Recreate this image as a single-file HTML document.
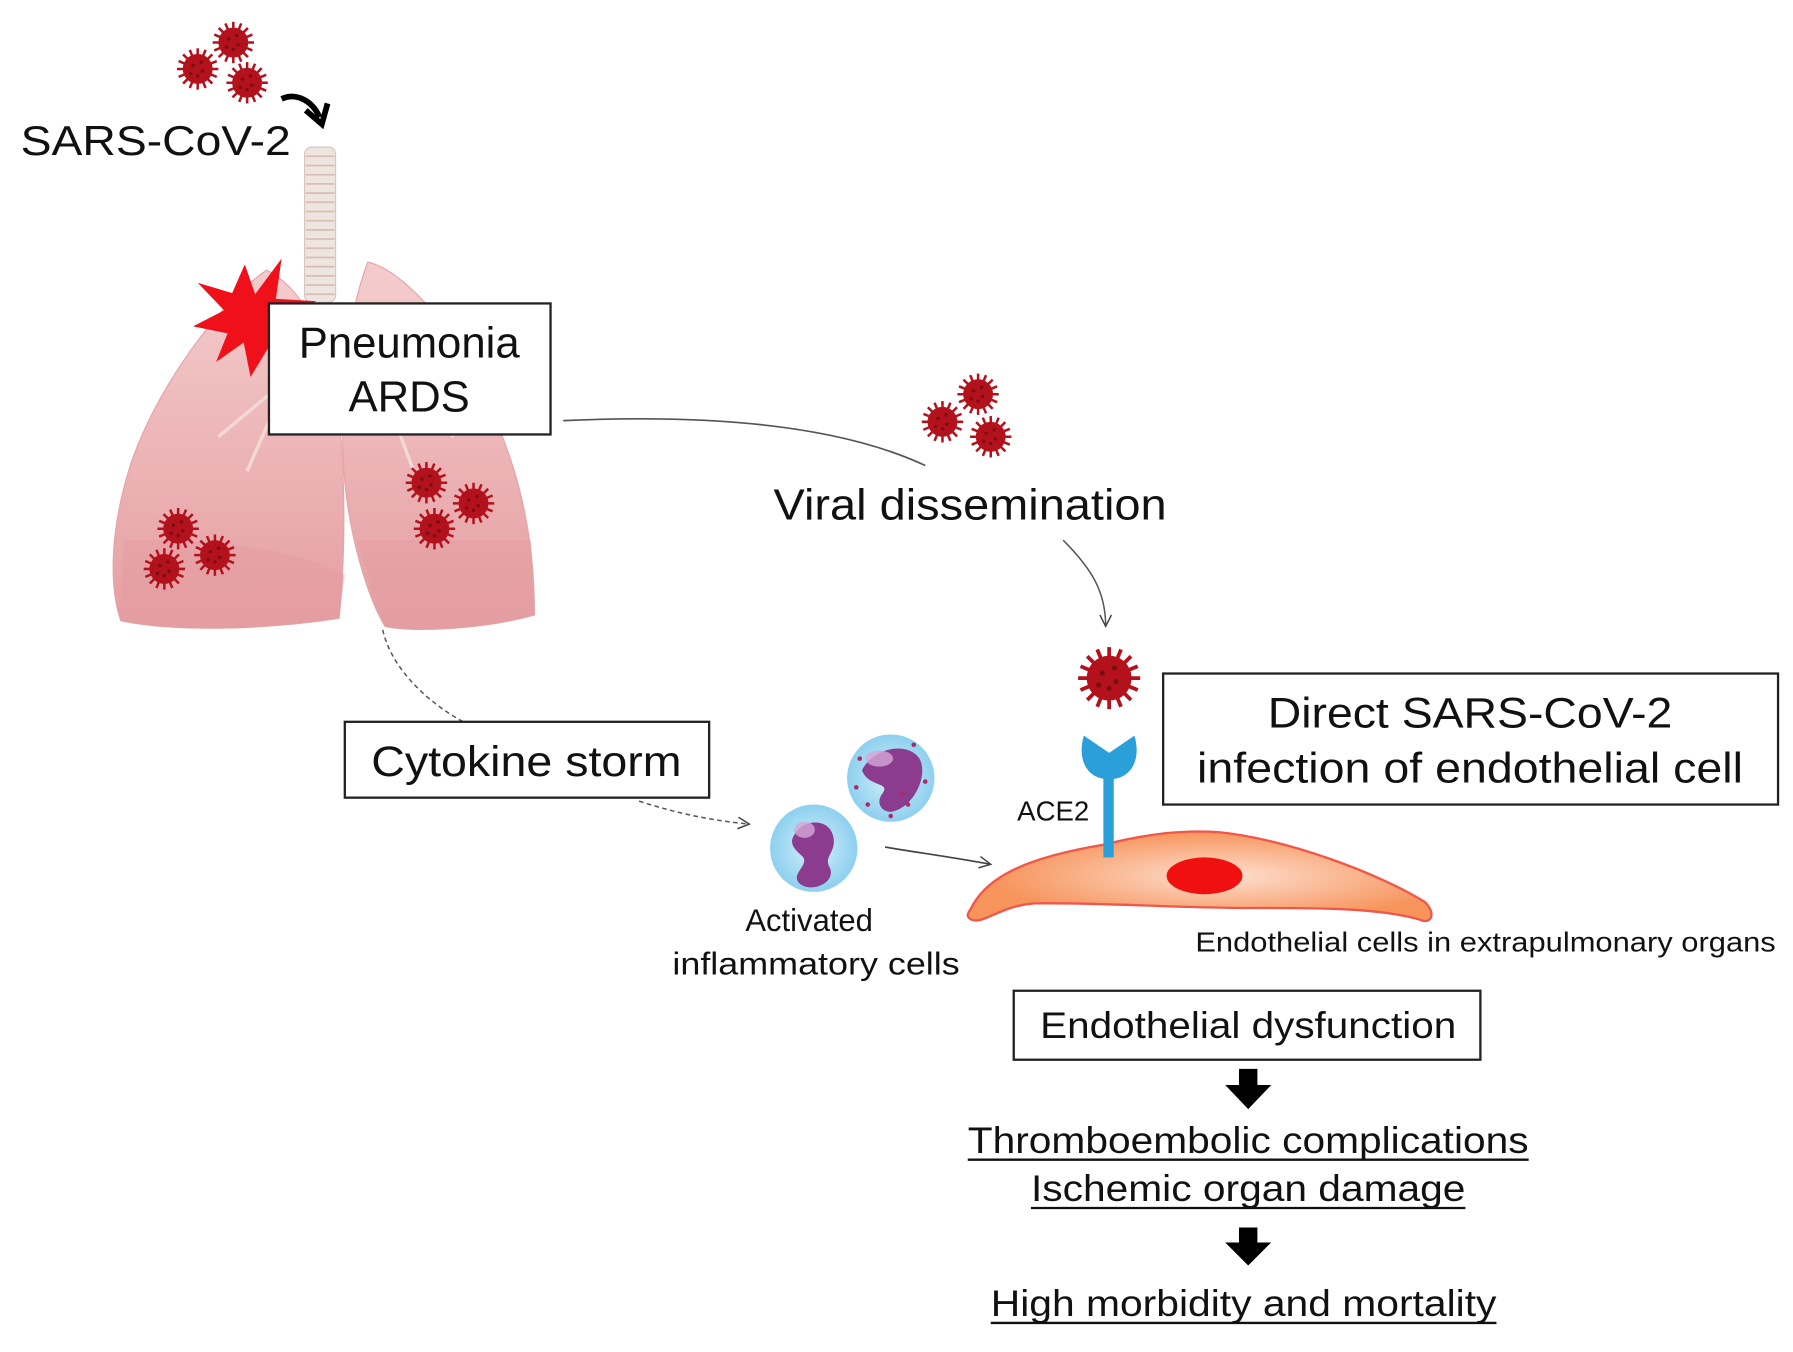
<!DOCTYPE html>
<html><head><meta charset="utf-8"><style>
html,body{margin:0;padding:0;background:#fff;}
svg{display:block;}
text{font-family:"Liberation Sans",Arial,sans-serif;fill:#111;}
</style></head><body>
<svg width="1793" height="1352" viewBox="0 0 1560 1176.3" preserveAspectRatio="none" xmlns="http://www.w3.org/2000/svg">
<defs>
<g id="v">
<circle r="13" fill="#b3121c"/>
<g stroke="#b3121c" stroke-width="2.2">
<line x1="0" y1="-18" x2="0" y2="18"/><line x1="-18" y1="0" x2="18" y2="0"/>
<line x1="-12.7" y1="-12.7" x2="12.7" y2="12.7"/><line x1="-12.7" y1="12.7" x2="12.7" y2="-12.7"/>
<line x1="-6.9" y1="-16.6" x2="6.9" y2="16.6"/><line x1="6.9" y1="-16.6" x2="-6.9" y2="16.6"/>
<line x1="-16.6" y1="-6.9" x2="16.6" y2="6.9"/><line x1="-16.6" y1="6.9" x2="16.6" y2="-6.9"/>
</g>
<g fill="#7d0c12"><circle cx="-4" cy="-3" r="1.5"/><circle cx="4" cy="2" r="1.5"/><circle cx="0" cy="6" r="1.5"/><circle cx="3" cy="-6" r="1.5"/><circle cx="-6" cy="4" r="1.5"/></g>
</g>
<linearGradient id="lg" x1="0" y1="0" x2="0" y2="1"><stop offset="0" stop-color="#f4cccc"/><stop offset="1" stop-color="#e59ea2"/></linearGradient>
<radialGradient id="eg" cx="0.55" cy="0.5" r="0.5"><stop offset="0" stop-color="#fde0d0"/><stop offset="1" stop-color="#f7945c"/></radialGradient>
<radialGradient id="cg" cx="0.5" cy="0.5" r="0.5"><stop offset="0" stop-color="#d6f0fb"/><stop offset="1" stop-color="#8dd0ef"/></radialGradient>
<marker id="ah" viewBox="0 0 12 12" refX="11" refY="6" markerWidth="12" markerHeight="12" markerUnits="userSpaceOnUse" orient="auto"><path d="M1,1 L11,6 L1,11" fill="none" stroke="#444" stroke-width="1.3"/></marker>
</defs>

<!-- trachea -->
<rect x="265" y="128" width="27" height="135" rx="6" fill="#efe5e0" stroke="#d9c5bf"/>
<g stroke="#d8bcb6" stroke-width="1.5">
<line x1="266" y1="136" x2="291" y2="136"/><line x1="266" y1="144" x2="291" y2="144"/><line x1="266" y1="152" x2="291" y2="152"/><line x1="266" y1="160" x2="291" y2="160"/><line x1="266" y1="168" x2="291" y2="168"/><line x1="266" y1="176" x2="291" y2="176"/><line x1="266" y1="184" x2="291" y2="184"/><line x1="266" y1="192" x2="291" y2="192"/><line x1="266" y1="200" x2="291" y2="200"/><line x1="266" y1="208" x2="291" y2="208"/><line x1="266" y1="216" x2="291" y2="216"/><line x1="266" y1="224" x2="291" y2="224"/><line x1="266" y1="232" x2="291" y2="232"/><line x1="266" y1="240" x2="291" y2="240"/><line x1="266" y1="248" x2="291" y2="248"/><line x1="266" y1="256" x2="291" y2="256"/>
</g>
<!-- lungs -->
<path d="M232,235 C195,260 140,330 115,400 C95,460 95,510 105,540 C150,550 230,548 295,538 C302,470 300,380 290,330 C282,290 262,250 232,235 Z" fill="url(#lg)" stroke="#e3a5a8"/>
<path d="M320,228 C350,235 390,280 415,330 C445,390 465,450 465,535 C420,548 360,550 335,545 C320,520 305,470 300,420 C295,360 300,280 320,228 Z" fill="url(#lg)" stroke="#e3a5a8"/>
<path d="M105,540 C150,550 230,548 295,538 L300,500 C240,470 160,470 108,470 Z" fill="#e39ca0" opacity="0.5"/>
<path d="M335,545 C360,550 420,548 465,535 L462,470 C420,470 360,470 310,470 Z" fill="#e39ca0" opacity="0.5"/>
<g stroke="#f3d9d6" stroke-width="3" fill="none"><path d="M278,262 L250,330 L215,410"/><path d="M280,262 L330,330 L360,410"/><path d="M250,330 L190,380"/><path d="M330,330 L395,380"/></g>
<!-- lung viruses -->
<use href="#v" x="155" y="460"/><use href="#v" x="143" y="495"/><use href="#v" x="187" y="483"/>
<use href="#v" x="371" y="420"/><use href="#v" x="412" y="438"/><use href="#v" x="378" y="460"/>
<!-- star -->
<polygon points="213,230 222,256 245,225 240,260 275,262 248,280 268,305 238,295 218,328 212,298 188,315 198,290 168,284 195,270 172,246 202,255" fill="#f0101a"/>
<!-- top viruses -->
<use href="#v" x="203" y="37"/><use href="#v" x="172" y="60"/><use href="#v" x="215" y="72"/>
<path d="M245,86 C258,80 272,88 278,102" fill="none" stroke="#000" stroke-width="5"/>
<path d="M266,96 L280,108 L285,90" fill="none" stroke="#000" stroke-width="5"/>
<text x="18" y="135" font-size="36" textLength="235" lengthAdjust="spacingAndGlyphs">SARS-CoV-2</text>

<!-- Pneumonia box -->
<rect x="234" y="264" width="245" height="114" fill="#fff" stroke="#222" stroke-width="2"/>
<text x="356" y="311" font-size="38" text-anchor="middle">Pneumonia</text>
<text x="356" y="358" font-size="38" text-anchor="middle">ARDS</text>

<!-- connectors -->
<path d="M490,366 C620,360 730,370 805,405" fill="none" stroke="#555" stroke-width="1.5"/>
<use href="#v" x="851" y="343"/><use href="#v" x="820" y="367"/><use href="#v" x="862" y="380"/>
<text x="673" y="452" font-size="38" textLength="342" lengthAdjust="spacingAndGlyphs">Viral dissemination</text>
<path d="M925,470 C950,495 962,515 962,545" fill="none" stroke="#555" stroke-width="1.3" marker-end="url(#ah)"/>
<path d="M333,548 C340,580 370,610 403,628" fill="none" stroke="#555" stroke-width="1.3" stroke-dasharray="4,3"/>
<rect x="300" y="628" width="317" height="66" fill="#fff" stroke="#222" stroke-width="2"/>
<text x="458" y="675" font-size="37" text-anchor="middle" textLength="270" lengthAdjust="spacingAndGlyphs">Cytokine storm</text>
<path d="M556,697 C590,708 620,714 652,717" fill="none" stroke="#555" stroke-width="1.3" stroke-dasharray="4,3" marker-end="url(#ah)"/>

<!-- inflammatory cells -->
<circle cx="775" cy="677" r="38" fill="url(#cg)"/>
<path d="M750,670 C760,650 790,645 800,660 C808,675 795,700 780,705 C770,710 760,700 768,690 C775,680 755,685 750,670 Z" fill="#8c3c8e"/>
<ellipse cx="765" cy="660" rx="12" ry="7" fill="#d6a6da" opacity="0.8"/>
<g fill="#b02a6a"><circle cx="748" cy="660" r="2"/><circle cx="755" cy="700" r="2"/><circle cx="790" cy="700" r="2"/><circle cx="805" cy="680" r="2"/><circle cx="795" cy="648" r="2"/><circle cx="745" cy="685" r="2"/><circle cx="775" cy="710" r="2"/><circle cx="785" cy="690" r="2"/></g>
<circle cx="708" cy="738" r="38" fill="url(#cg)"/>
<path d="M692,725 C700,712 722,712 725,728 C728,742 716,745 722,755 C728,768 705,778 695,768 C688,760 705,752 698,745 C690,738 686,733 692,725 Z" fill="#8c3c8e"/>
<ellipse cx="700" cy="722" rx="9" ry="7" fill="#d6a6da" opacity="0.8"/>
<text x="704" y="810" font-size="27" text-anchor="middle">Activated</text>
<text x="710" y="848" font-size="27" text-anchor="middle" textLength="250" lengthAdjust="spacingAndGlyphs">inflammatory cells</text>
<path d="M770,737 C800,742 830,746 862,752" fill="none" stroke="#444" stroke-width="1.5" marker-end="url(#ah)"/>

<!-- endothelial cell -->
<path d="M845,790 C860,760 900,745 960,735 C1000,725 1030,722 1060,724 C1120,730 1200,760 1240,785 C1250,795 1245,805 1235,800 C1200,790 1150,790 1090,790 C1020,790 960,785 900,786 C870,788 855,805 845,800 C840,797 842,795 845,790 Z" fill="url(#eg)" stroke="#f0564a" stroke-width="2"/>
<ellipse cx="1048" cy="762" rx="33" ry="16" fill="#f01010"/>
<rect x="960" y="670" width="9" height="76" fill="#2a9fd8"/>
<path d="M943,640 L965,655 L987,640 C993,660 985,678 965,678 C945,678 937,660 943,640 Z" fill="#2a9fd8"/>
<use href="#v" x="965" y="590" transform="translate(965,590) scale(1.5) translate(-965,-590)"/>
<text x="885" y="714" font-size="24">ACE2</text>
<rect x="1012" y="586" width="535" height="114" fill="#fff" stroke="#222" stroke-width="2"/>
<text x="1279" y="633" font-size="37" text-anchor="middle" textLength="352" lengthAdjust="spacingAndGlyphs">Direct SARS-CoV-2</text>
<text x="1279" y="681" font-size="37" text-anchor="middle" textLength="475" lengthAdjust="spacingAndGlyphs">infection of endothelial cell</text>
<text x="1040" y="828" font-size="24" textLength="505" lengthAdjust="spacingAndGlyphs">Endothelial cells in extrapulmonary organs</text>

<!-- outcomes -->
<rect x="882" y="862" width="406" height="60" fill="#fff" stroke="#222" stroke-width="2"/>
<text x="1086" y="903" font-size="32" text-anchor="middle" textLength="362" lengthAdjust="spacingAndGlyphs">Endothelial dysfunction</text>
<polygon points="1078,930 1094,930 1094,944 1106,944 1086,965 1066,944 1078,944" fill="#000"/>
<text x="1086" y="1003" font-size="32" text-anchor="middle" textLength="488" lengthAdjust="spacingAndGlyphs">Thromboembolic complications</text>
<line x1="842" y1="1009" x2="1330" y2="1009" stroke="#111" stroke-width="2"/>
<text x="1086" y="1045" font-size="32" text-anchor="middle" textLength="378" lengthAdjust="spacingAndGlyphs">Ischemic organ damage</text>
<line x1="897" y1="1051" x2="1275" y2="1051" stroke="#111" stroke-width="2"/>
<polygon points="1078,1068 1094,1068 1094,1081 1106,1081 1086,1101 1066,1081 1078,1081" fill="#000"/>
<text x="1082" y="1145" font-size="32" text-anchor="middle" textLength="440" lengthAdjust="spacingAndGlyphs">High morbidity and mortality</text>
<line x1="862" y1="1151" x2="1302" y2="1151" stroke="#111" stroke-width="2"/>
</svg>
</body></html>
